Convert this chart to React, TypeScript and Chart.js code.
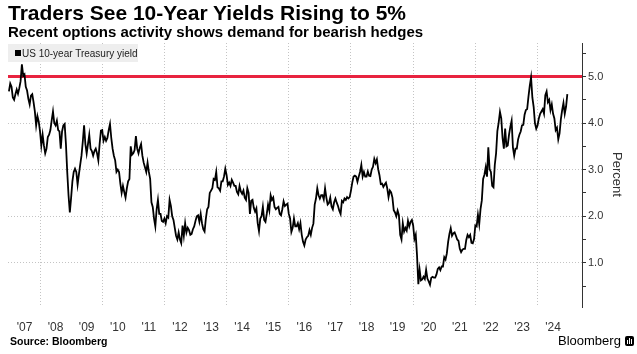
import React, { useEffect, useRef } from "react";
import { Chart, registerables } from "chart.js";

Chart.register(...registerables);

// ---- Data (semi-monthly readings, US 10-year Treasury yield, %) ----
const years = [2007, 2008, 2009, 2010, 2011, 2012, 2013, 2014, 2015, 2016, 2017, 2018, 2019, 2020, 2021, 2022, 2023, 2024];

const yields2007 = [4.68, 4.85, 4.78, 4.55, 4.50, 4.62, 4.72, 4.63, 4.75, 4.90, 5.26, 5.02, 5.05, 4.78, 4.70, 4.52, 4.40, 4.59, 4.62, 4.45, 4.25, 3.95, 4.15, 4.03];
const yields2008 = [3.82, 3.52, 3.75, 3.52, 3.35, 3.45, 3.70, 3.75, 3.85, 4.06, 4.25, 4.00, 3.95, 4.05, 3.85, 3.82, 3.45, 3.82, 3.95, 3.98, 3.55, 2.95, 2.45, 2.08];
const yields2009 = [2.40, 2.75, 2.95, 3.02, 2.95, 2.68, 2.90, 3.10, 3.30, 3.60, 3.95, 3.55, 3.35, 3.55, 3.75, 3.45, 3.40, 3.30, 3.40, 3.45, 3.35, 3.20, 3.55, 3.84];
const yields2010 = [3.85, 3.62, 3.70, 3.62, 3.68, 3.85, 3.98, 3.68, 3.45, 3.30, 3.20, 2.95, 3.00, 2.95, 2.70, 2.50, 2.65, 2.52, 2.40, 2.60, 2.75, 2.80, 3.50, 3.32];
const yields2011 = [3.35, 3.42, 3.72, 3.45, 3.35, 3.47, 3.55, 3.30, 3.15, 3.05, 2.95, 3.15, 2.95, 2.80, 2.30, 2.20, 1.95, 1.78, 2.15, 2.35, 2.05, 2.05, 1.90, 1.88];
const yields2012 = [1.95, 1.85, 2.00, 1.97, 2.35, 2.22, 2.00, 1.92, 1.75, 1.58, 1.50, 1.65, 1.50, 1.42, 1.80, 1.58, 1.85, 1.65, 1.75, 1.70, 1.60, 1.62, 1.72, 1.78];
const yields2013 = [1.90, 2.00, 2.02, 1.88, 2.05, 1.85, 1.72, 1.67, 1.95, 2.15, 2.20, 2.50, 2.55, 2.60, 2.80, 2.78, 2.95, 2.62, 2.60, 2.55, 2.75, 2.75, 2.85, 3.02];
const yields2014 = [2.88, 2.67, 2.72, 2.65, 2.78, 2.72, 2.65, 2.65, 2.52, 2.47, 2.65, 2.53, 2.48, 2.55, 2.40, 2.35, 2.60, 2.50, 2.05, 2.33, 2.35, 2.18, 2.10, 2.17];
const yields2015 = [1.85, 1.68, 1.95, 2.00, 2.20, 1.92, 1.88, 2.05, 2.25, 2.12, 2.45, 2.35, 2.40, 2.20, 2.15, 2.18, 2.20, 2.05, 2.02, 2.15, 2.32, 2.22, 2.25, 2.27];
const yields2016 = [2.05, 1.95, 1.66, 1.75, 1.95, 1.78, 1.78, 1.85, 1.72, 1.85, 1.60, 1.45, 1.37, 1.50, 1.55, 1.58, 1.70, 1.60, 1.75, 1.84, 2.25, 2.38, 2.60, 2.45];
const yields2017 = [2.38, 2.45, 2.45, 2.36, 2.60, 2.40, 2.25, 2.28, 2.40, 2.21, 2.15, 2.30, 2.38, 2.29, 2.22, 2.12, 2.05, 2.33, 2.30, 2.38, 2.35, 2.41, 2.38, 2.41];
const yields2018 = [2.55, 2.72, 2.85, 2.87, 2.85, 2.74, 2.85, 2.95, 3.10, 2.85, 2.95, 2.85, 2.85, 2.96, 2.87, 2.86, 3.00, 3.06, 3.23, 3.14, 3.22, 3.01, 2.88, 2.69];
const yields2019 = [2.70, 2.63, 2.68, 2.72, 2.60, 2.41, 2.55, 2.51, 2.40, 2.13, 2.08, 2.00, 2.12, 2.02, 1.60, 1.50, 1.85, 1.67, 1.75, 1.69, 1.90, 1.78, 1.88, 1.92];
const yields2020 = [1.80, 1.51, 1.60, 1.15, 0.54, 0.85, 0.62, 0.64, 0.70, 0.65, 0.85, 0.66, 0.60, 0.53, 0.68, 0.70, 0.68, 0.68, 0.75, 0.87, 0.90, 0.84, 0.92, 0.92];
const yields2021 = [1.12, 1.07, 1.20, 1.45, 1.62, 1.74, 1.58, 1.63, 1.65, 1.58, 1.50, 1.47, 1.30, 1.23, 1.28, 1.30, 1.30, 1.49, 1.60, 1.55, 1.60, 1.43, 1.42, 1.51];
const yields2022 = [1.80, 1.78, 2.03, 1.83, 2.15, 2.34, 2.80, 2.89, 3.05, 2.85, 3.48, 3.01, 2.95, 2.65, 2.62, 3.10, 3.35, 3.83, 4.01, 4.24, 4.10, 3.68, 3.45, 3.88];
const yields2023 = [3.50, 3.52, 3.75, 3.92, 4.05, 3.48, 3.30, 3.45, 3.45, 3.65, 3.75, 3.82, 3.95, 3.96, 4.18, 4.28, 4.30, 4.57, 4.80, 4.98, 4.55, 4.35, 4.00, 3.88];
const yields2024 = [3.95, 4.10, 4.20, 4.25, 4.30, 4.20, 4.60, 4.68, 4.45, 4.50, 4.28, 4.40, 4.20, 4.10, 3.85, 3.90, 3.65, 3.78, 4.08, 4.28, 4.43, 4.20, 4.35, 4.62];

const yieldsByYear = [yields2007, yields2008, yields2009, yields2010, yields2011, yields2012, yields2013, yields2014, yields2015, yields2016, yields2017, yields2018, yields2019, yields2020, yields2021, yields2022, yields2023, yields2024];

const referenceYield = 5.0;
const xAxisRange = [2006.97, 2025.43];
const yAxisRange = [0.05, 5.72];
const xTickLabels = ["'07", "'08", "'09", "'10", "'11", "'12", "'13", "'14", "'15", "'16", "'17", "'18", "'19", "'20", "'21", "'22", "'23", "'24"];
const xGridYears = [2008, 2010, 2012, 2014, 2016, 2018, 2020, 2022, 2024];
const yTickValues = [0.5, 1.0, 1.5, 2.0, 2.5, 3.0, 3.5, 4.0, 4.5, 5.0, 5.5];
const yTickLabels = ["1.0", "2.0", "3.0", "4.0", "5.0"];

const FONT = "'Liberation Sans', Arial, sans-serif";

export default function App() {
  const canvasRef = useRef<HTMLCanvasElement | null>(null);

  useEffect(() => {
    if (!canvasRef.current) return;
    const points = years.flatMap((yr, yi) =>
      yieldsByYear[yi].map((v, i) => ({ x: yr + i / yieldsByYear[yi].length, y: v }))
    );
    const labelYears = years.map((y) => y + 0.5);
    const xTickValues = [...labelYears, ...xGridYears].sort((a, b) => a - b);

    Chart.defaults.font.family = FONT;

    const chart = new Chart(canvasRef.current, {
      type: "line",
      data: {
        datasets: [
          {
            data: [
              { x: xAxisRange[0], y: referenceYield },
              { x: xAxisRange[1], y: referenceYield },
            ],
            borderColor: "#e8233f",
            borderWidth: 3,
            pointRadius: 0,
            order: 2,
          },
          {
            data: points,
            borderColor: "#000000",
            borderWidth: 1.8,
            pointRadius: 0,
            tension: 0,
            order: 1,
          },
        ],
      },
      options: {
        animation: false,
        responsive: true,
        maintainAspectRatio: false,
        layout: { padding: { left: 8, top: 43, right: 0, bottom: 0 } },
        plugins: { legend: { display: false }, tooltip: { enabled: false } },
        scales: {
          x: {
            type: "linear",
            min: xAxisRange[0],
            max: xAxisRange[1],
            afterBuildTicks: (s: any) => {
              s.ticks = xTickValues.map((v) => ({ value: v }));
            },
            afterFit: (s: any) => {
              s.height = 47;
            },
            ticks: {
              autoSkip: false,
              maxRotation: 0,
              minRotation: 0,
              padding: 13,
              color: "#333",
              font: { size: 12 },
              callback: (v: any) => {
                const idx = labelYears.indexOf(Number(v));
                return idx >= 0 ? xTickLabels[idx] : "";
              },
            },
            grid: {
              drawTicks: false,
              lineWidth: 1,
              color: (ctx: any) =>
                ctx.tick && xGridYears.includes(ctx.tick.value) ? "#c4c4c4" : "rgba(0,0,0,0)",
              borderDash: [1, 2],
            },
            border: { display: false, dash: [1, 2] },
          },
          y: {
            type: "linear",
            position: "right",
            min: yAxisRange[0],
            max: yAxisRange[1],
            afterBuildTicks: (s: any) => {
              s.ticks = yTickValues.map((v) => ({ value: v }));
            },
            afterFit: (s: any) => {
              s.width = 55;
            },
            ticks: {
              padding: 2,
              color: "#333",
              font: { size: 11 },
              callback: (v: any) => {
                const n = Number(v);
                const lbl = n.toFixed(1);
                return Number.isInteger(n) && yTickLabels.includes(lbl) ? lbl : "";
              },
            },
            grid: {
              drawTicks: true,
              tickLength: 4,
              tickColor: "#333",
              lineWidth: 1,
              color: (ctx: any) =>
                ctx.tick && Number.isInteger(ctx.tick.value) ? "#c4c4c4" : "rgba(0,0,0,0)",
              borderDash: [1, 2],
            },
            border: { display: true, color: "#333", width: 1, dash: [1, 2] },
          },
        },
      },
    });
    return () => chart.destroy();
  }, []);

  return (
    <div
      style={{
        position: "fixed",
        left: 0,
        top: 0,
        width: 637,
        height: 354,
        background: "#fff",
        fontFamily: FONT,
        overflow: "hidden",
      }}
    >
      <div style={{ position: "absolute", left: 0, top: 0, width: 637, height: 354 }}>
        <canvas ref={canvasRef} />
      </div>
      <div
        style={{
          position: "absolute",
          left: 8,
          top: 2,
          fontSize: 21,
          lineHeight: "21px",
          fontWeight: 700,
          color: "#000",
          whiteSpace: "nowrap",
        }}
      >
        Traders See 10-Year Yields Rising to 5%
      </div>
      <div
        style={{
          position: "absolute",
          left: 8,
          top: 24,
          fontSize: 15,
          lineHeight: "15px",
          fontWeight: 700,
          color: "#000",
          whiteSpace: "nowrap",
        }}
      >
        Recent options activity shows demand for bearish hedges
      </div>
      <div
        style={{
          position: "absolute",
          left: 8,
          top: 44,
          width: 130,
          height: 18,
          background: "#eeeeee",
          display: "flex",
          alignItems: "center",
          fontSize: 10,
          color: "#222",
          whiteSpace: "nowrap",
        }}
      >
        <span style={{ display: "inline-block", width: 6, height: 6, background: "#000", marginLeft: 7, marginRight: 1 }} />
        <span>US 10-year Treasury yield</span>
      </div>
      <div
        style={{
          position: "absolute",
          left: 611,
          top: 152,
          writingMode: "vertical-rl",
          fontSize: 13,
          lineHeight: "13px",
          color: "#333",
          whiteSpace: "nowrap",
        }}
      >
        Percent
      </div>
      <div
        style={{
          position: "absolute",
          left: 10,
          top: 336,
          fontSize: 10.5,
          lineHeight: "11px",
          fontWeight: 700,
          color: "#000",
          whiteSpace: "nowrap",
        }}
      >
        Source: Bloomberg
      </div>
      <div
        style={{
          position: "absolute",
          left: 558,
          top: 334,
          fontSize: 13,
          lineHeight: "13px",
          color: "#000",
          whiteSpace: "nowrap",
          display: "flex",
          alignItems: "center",
        }}
      >
        <span>Bloomberg</span>
        <span
          style={{
            display: "inline-block",
            width: 9,
            height: 10,
            background: "#000",
            borderRadius: 2,
            marginLeft: 4,
            position: "relative",
          }}
        >
          <span style={{ position: "absolute", left: 2, top: 4, width: 1, height: 4, background: "#fff" }} />
          <span style={{ position: "absolute", left: 4, top: 2, width: 1, height: 6, background: "#fff" }} />
          <span style={{ position: "absolute", left: 6, top: 3, width: 1, height: 5, background: "#fff" }} />
        </span>
      </div>
    </div>
  );
}
